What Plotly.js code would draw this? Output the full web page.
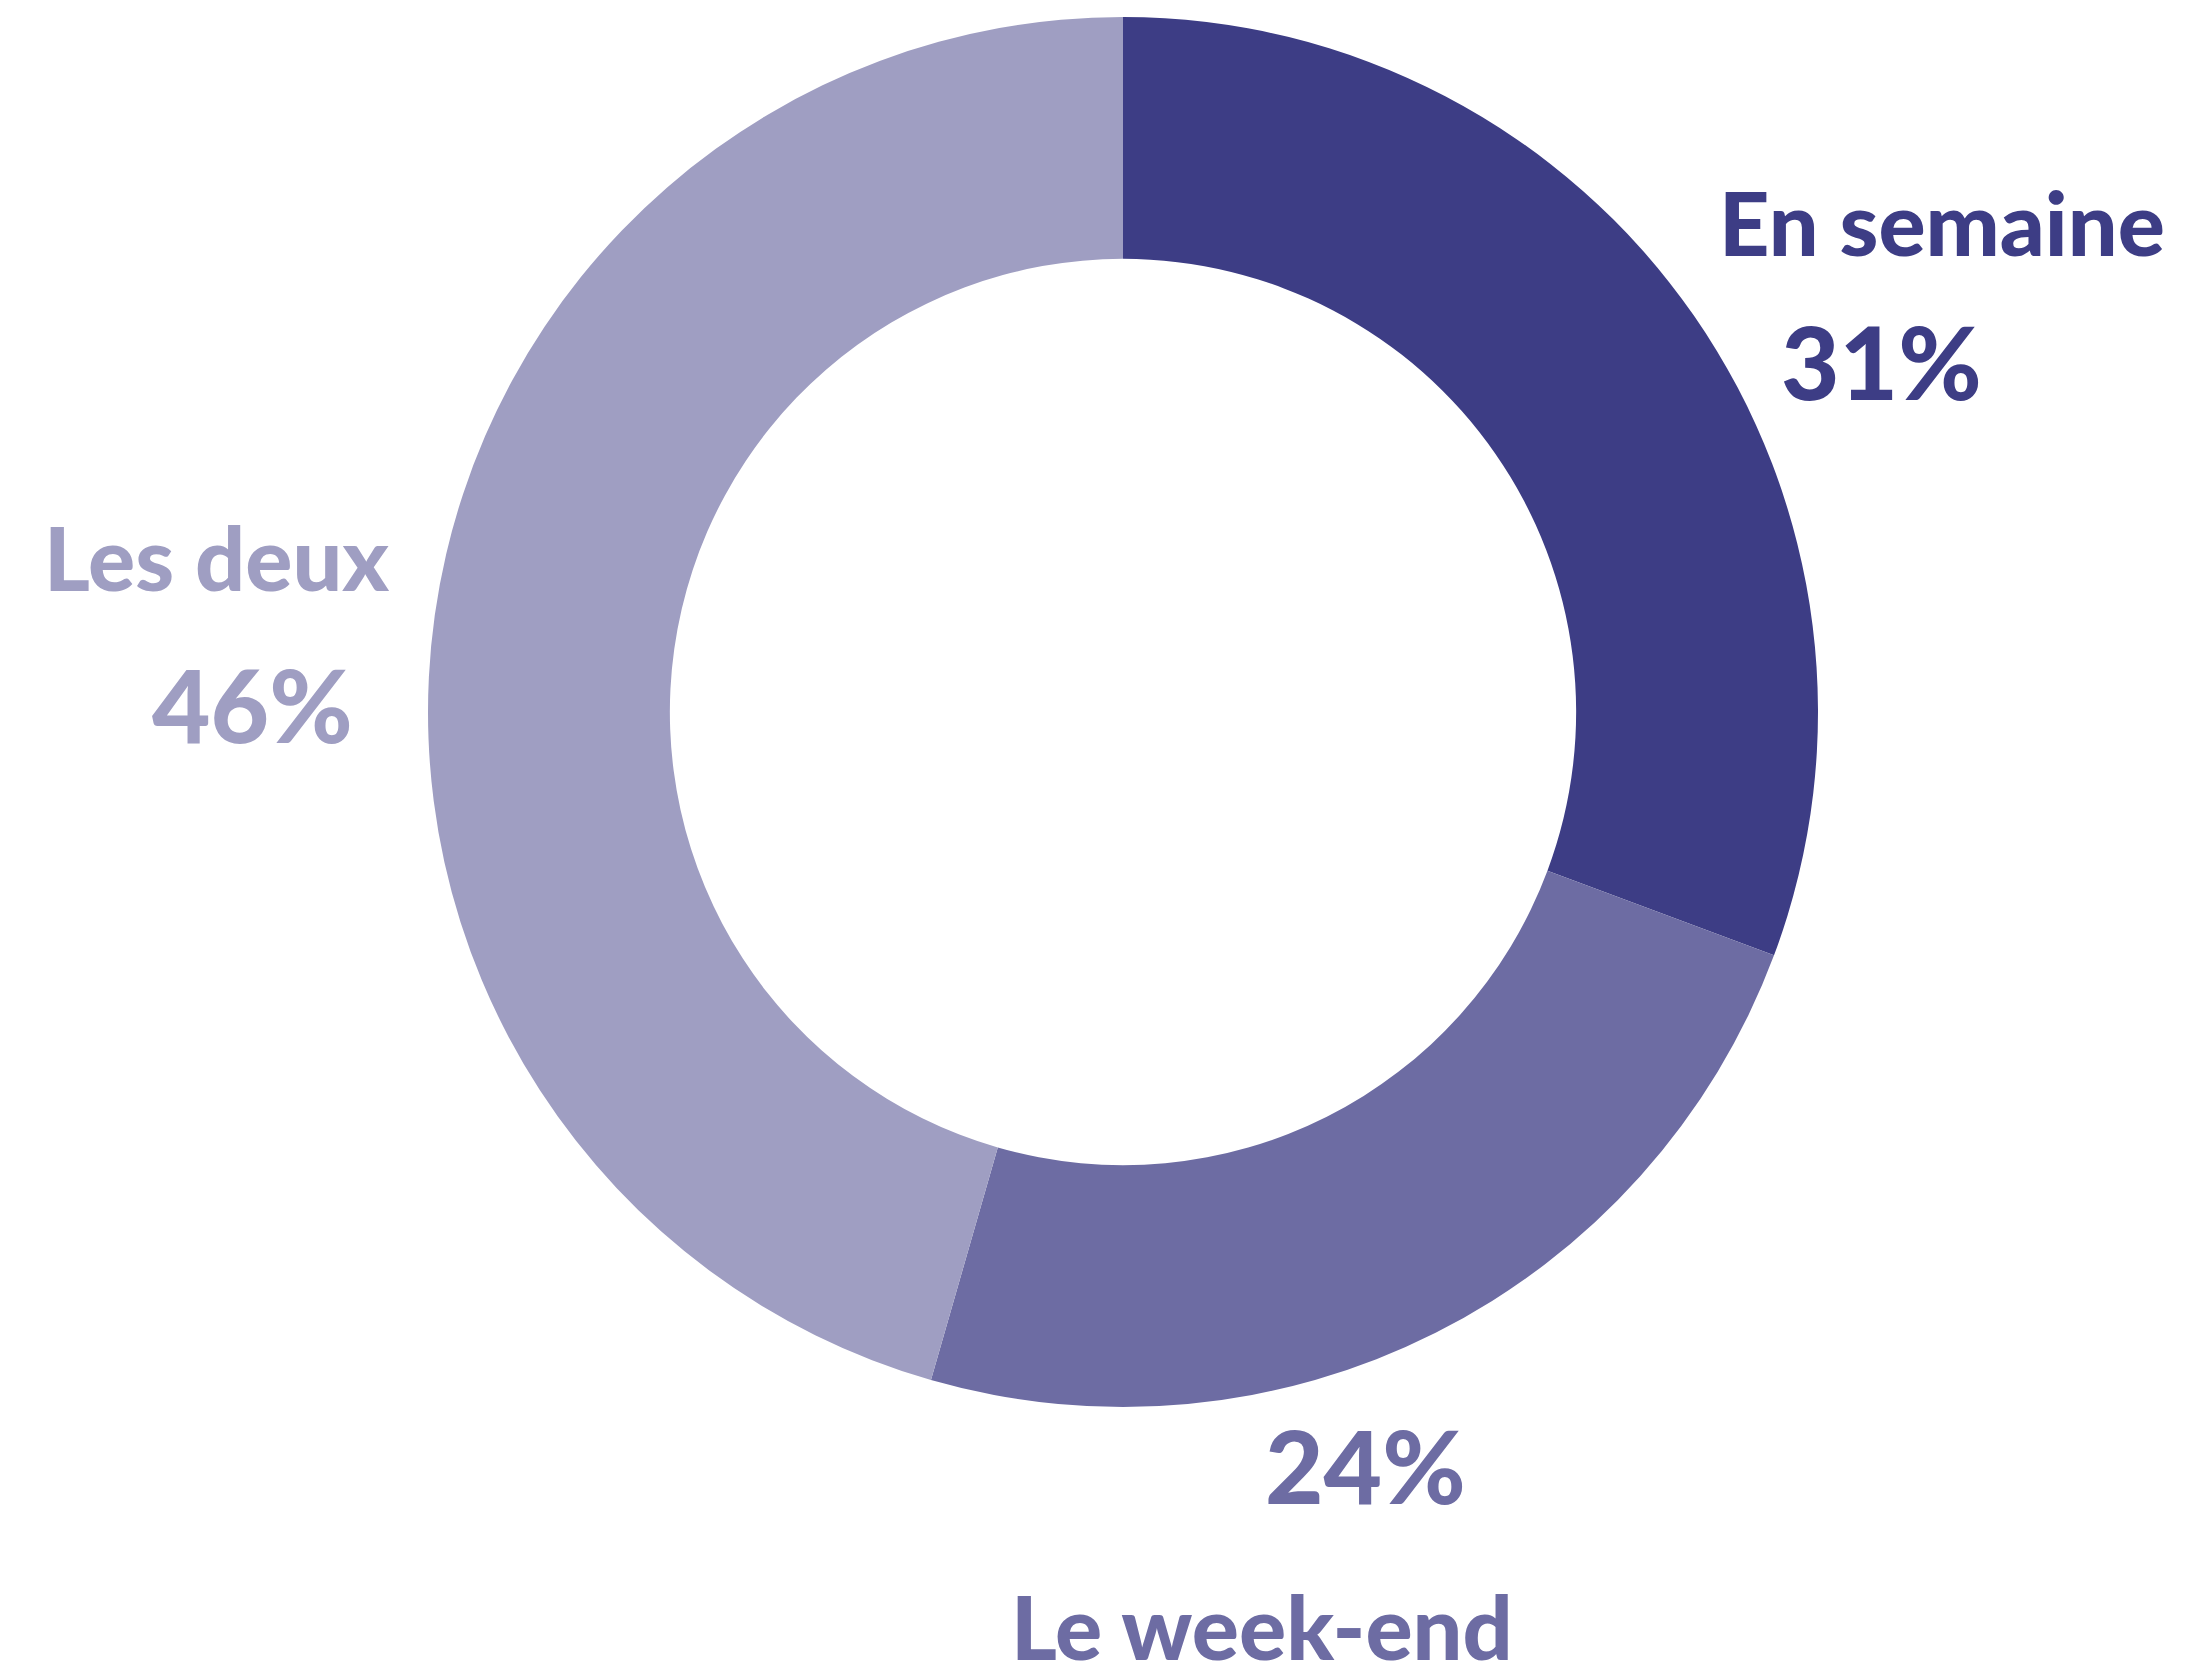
<!DOCTYPE html>
<html>
<head>
<meta charset="utf-8">
<script src="https://cdn.plot.ly/plotly-3.0.1.min.js"></script>
<style>html,body{margin:0;padding:0;background:#fff;}#chart{width:2209px;height:1665px;}</style>
</head>
<body>
<div id="chart"></div>
<script>
const categories = ["En semaine", "Le week-end", "Les deux"];
const percentValues = [31, 24, 46];
const sliceColors = ["#3D3D85", "#6D6CA3", "#9F9EC2"];

const W = 2209, H = 1665;
// label pixel centers (name, value) for each slice
const namePos = [[1942, 222], [1262, 1626], [216, 557]];
const valuePos = [[1881, 361], [1365, 1465], [252, 704]];

const annotations = [];
categories.forEach((c, i) => {
  annotations.push({
    text: c, xref: "paper", yref: "paper",
    x: namePos[i][0] / W, y: 1 - namePos[i][1] / H,
    xanchor: "center", yanchor: "middle", showarrow: false,
    font: {family: "Lato", size: 88, weight: 900, color: sliceColors[i]}
  });
  annotations.push({
    text: percentValues[i] + "%", xref: "paper", yref: "paper",
    x: valuePos[i][0] / W, y: 1 - valuePos[i][1] / H,
    xanchor: "center", yanchor: "middle", showarrow: false,
    font: {family: "Lato", size: 101, weight: 900, color: sliceColors[i]}
  });
});

const trace = {
  type: "pie",
  labels: categories,
  values: percentValues,
  hole: 0.652,
  sort: false,
  direction: "clockwise",
  rotation: 0,
  textinfo: "none",
  hoverinfo: "label+value",
  marker: {colors: sliceColors, line: {width: 0}},
  domain: {x: [(1123 - 695) / W, (1123 + 695) / W], y: [(953 - 695) / H, (953 + 695) / H]}
};

Plotly.newPlot("chart", [trace], {
  width: W, height: H,
  margin: {l: 0, r: 0, t: 0, b: 0},
  showlegend: false,
  paper_bgcolor: "#ffffff",
  annotations: annotations
}, {displayModeBar: false});
</script>
</body>
</html>
